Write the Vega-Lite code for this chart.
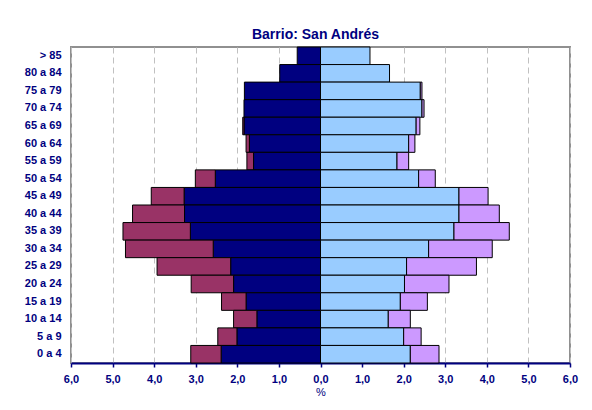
{
  "$schema": "https://vega.github.io/schema/vega-lite/v6.json",
  "autosize": "none",
  "width": 499,
  "height": 316,
  "padding": {"left": 71, "top": 47, "right": 22, "bottom": 47},
  "background": "white",
  "title": {
    "text": "Barrio: San Andrés",
    "font": "Liberation Sans",
    "fontSize": 14,
    "fontWeight": "bold",
    "color": "#000080",
    "anchor": "middle",
    "offset": 5,
    "dx": -5
  },
  "data": {
    "values": [
      {"edad": "> 85", "grupo": "Hombres españoles", "orden": 1, "valor": -0.56},
      {"edad": "> 85", "grupo": "Mujeres españolas", "orden": 1, "valor": 1.19},
      {"edad": "80 a 84", "grupo": "Hombres españoles", "orden": 1, "valor": -0.98},
      {"edad": "80 a 84", "grupo": "Mujeres españolas", "orden": 1, "valor": 1.66},
      {"edad": "75 a 79", "grupo": "Hombres españoles", "orden": 1, "valor": -1.83},
      {"edad": "75 a 79", "grupo": "Mujeres españolas", "orden": 1, "valor": 2.40},
      {"edad": "75 a 79", "grupo": "Mujeres extranjeras", "orden": 2, "valor": 0.04},
      {"edad": "70 a 74", "grupo": "Hombres españoles", "orden": 1, "valor": -1.84},
      {"edad": "70 a 74", "grupo": "Mujeres españolas", "orden": 1, "valor": 2.44},
      {"edad": "70 a 74", "grupo": "Mujeres extranjeras", "orden": 2, "valor": 0.05},
      {"edad": "65 a 69", "grupo": "Hombres españoles", "orden": 1, "valor": -1.84},
      {"edad": "65 a 69", "grupo": "Hombres extranjeros", "orden": 2, "valor": -0.03},
      {"edad": "65 a 69", "grupo": "Mujeres españolas", "orden": 1, "valor": 2.30},
      {"edad": "65 a 69", "grupo": "Mujeres extranjeras", "orden": 2, "valor": 0.09},
      {"edad": "60 a 64", "grupo": "Hombres españoles", "orden": 1, "valor": -1.71},
      {"edad": "60 a 64", "grupo": "Hombres extranjeros", "orden": 2, "valor": -0.08},
      {"edad": "60 a 64", "grupo": "Mujeres españolas", "orden": 1, "valor": 2.12},
      {"edad": "60 a 64", "grupo": "Mujeres extranjeras", "orden": 2, "valor": 0.15},
      {"edad": "55 a 59", "grupo": "Hombres españoles", "orden": 1, "valor": -1.61},
      {"edad": "55 a 59", "grupo": "Hombres extranjeros", "orden": 2, "valor": -0.16},
      {"edad": "55 a 59", "grupo": "Mujeres españolas", "orden": 1, "valor": 1.84},
      {"edad": "55 a 59", "grupo": "Mujeres extranjeras", "orden": 2, "valor": 0.28},
      {"edad": "50 a 54", "grupo": "Hombres españoles", "orden": 1, "valor": -2.53},
      {"edad": "50 a 54", "grupo": "Hombres extranjeros", "orden": 2, "valor": -0.48},
      {"edad": "50 a 54", "grupo": "Mujeres españolas", "orden": 1, "valor": 2.36},
      {"edad": "50 a 54", "grupo": "Mujeres extranjeras", "orden": 2, "valor": 0.40},
      {"edad": "45 a 49", "grupo": "Hombres españoles", "orden": 1, "valor": -3.28},
      {"edad": "45 a 49", "grupo": "Hombres extranjeros", "orden": 2, "valor": -0.79},
      {"edad": "45 a 49", "grupo": "Mujeres españolas", "orden": 1, "valor": 3.33},
      {"edad": "45 a 49", "grupo": "Mujeres extranjeras", "orden": 2, "valor": 0.70},
      {"edad": "40 a 44", "grupo": "Hombres españoles", "orden": 1, "valor": -3.27},
      {"edad": "40 a 44", "grupo": "Hombres extranjeros", "orden": 2, "valor": -1.25},
      {"edad": "40 a 44", "grupo": "Mujeres españolas", "orden": 1, "valor": 3.33},
      {"edad": "40 a 44", "grupo": "Mujeres extranjeras", "orden": 2, "valor": 0.97},
      {"edad": "35 a 39", "grupo": "Hombres españoles", "orden": 1, "valor": -3.13},
      {"edad": "35 a 39", "grupo": "Hombres extranjeros", "orden": 2, "valor": -1.62},
      {"edad": "35 a 39", "grupo": "Mujeres españolas", "orden": 1, "valor": 3.21},
      {"edad": "35 a 39", "grupo": "Mujeres extranjeras", "orden": 2, "valor": 1.33},
      {"edad": "30 a 34", "grupo": "Hombres españoles", "orden": 1, "valor": -2.58},
      {"edad": "30 a 34", "grupo": "Hombres extranjeros", "orden": 2, "valor": -2.11},
      {"edad": "30 a 34", "grupo": "Mujeres españolas", "orden": 1, "valor": 2.60},
      {"edad": "30 a 34", "grupo": "Mujeres extranjeras", "orden": 2, "valor": 1.53},
      {"edad": "25 a 29", "grupo": "Hombres españoles", "orden": 1, "valor": -2.16},
      {"edad": "25 a 29", "grupo": "Hombres extranjeros", "orden": 2, "valor": -1.77},
      {"edad": "25 a 29", "grupo": "Mujeres españolas", "orden": 1, "valor": 2.07},
      {"edad": "25 a 29", "grupo": "Mujeres extranjeras", "orden": 2, "valor": 1.68},
      {"edad": "20 a 24", "grupo": "Hombres españoles", "orden": 1, "valor": -2.09},
      {"edad": "20 a 24", "grupo": "Hombres extranjeros", "orden": 2, "valor": -1.02},
      {"edad": "20 a 24", "grupo": "Mujeres españolas", "orden": 1, "valor": 2.02},
      {"edad": "20 a 24", "grupo": "Mujeres extranjeras", "orden": 2, "valor": 1.07},
      {"edad": "15 a 19", "grupo": "Hombres españoles", "orden": 1, "valor": -1.79},
      {"edad": "15 a 19", "grupo": "Hombres extranjeros", "orden": 2, "valor": -0.59},
      {"edad": "15 a 19", "grupo": "Mujeres españolas", "orden": 1, "valor": 1.92},
      {"edad": "15 a 19", "grupo": "Mujeres extranjeras", "orden": 2, "valor": 0.65},
      {"edad": "10 a 14", "grupo": "Hombres españoles", "orden": 1, "valor": -1.53},
      {"edad": "10 a 14", "grupo": "Hombres extranjeros", "orden": 2, "valor": -0.56},
      {"edad": "10 a 14", "grupo": "Mujeres españolas", "orden": 1, "valor": 1.63},
      {"edad": "10 a 14", "grupo": "Mujeres extranjeras", "orden": 2, "valor": 0.53},
      {"edad": "5 a 9", "grupo": "Hombres españoles", "orden": 1, "valor": -2.01},
      {"edad": "5 a 9", "grupo": "Hombres extranjeros", "orden": 2, "valor": -0.46},
      {"edad": "5 a 9", "grupo": "Mujeres españolas", "orden": 1, "valor": 2.00},
      {"edad": "5 a 9", "grupo": "Mujeres extranjeras", "orden": 2, "valor": 0.42},
      {"edad": "0 a 4", "grupo": "Hombres españoles", "orden": 1, "valor": -2.39},
      {"edad": "0 a 4", "grupo": "Hombres extranjeros", "orden": 2, "valor": -0.73},
      {"edad": "0 a 4", "grupo": "Mujeres españolas", "orden": 1, "valor": 2.16},
      {"edad": "0 a 4", "grupo": "Mujeres extranjeras", "orden": 2, "valor": 0.69}
    ]
  },
  "mark": {"type": "bar", "stroke": "black", "strokeWidth": 1},
  "encoding": {
    "y": {
      "field": "edad",
      "type": "nominal",
      "sort": ["> 85", "80 a 84", "75 a 79", "70 a 74", "65 a 69", "60 a 64", "55 a 59", "50 a 54", "45 a 49", "40 a 44", "35 a 39", "30 a 34", "25 a 29", "20 a 24", "15 a 19", "10 a 14", "5 a 9", "0 a 4"],
      "scale": {"paddingInner": 0, "paddingOuter": 0},
      "axis": {
        "title": null,
        "ticks": false,
        "domain": false,
        "labelPadding": 10,
        "labelFont": "Liberation Sans",
        "labelFontSize": 11,
        "labelFontWeight": "bold",
        "labelColor": "#000080"
      }
    },
    "x": {
      "field": "valor",
      "type": "quantitative",
      "stack": "zero",
      "scale": {"domain": [-6, 6], "nice": false},
      "axis": {
        "title": "%",
        "values": [-6, -5, -4, -3, -2, -1, 0, 1, 2, 3, 4, 5, 6],
        "labelExpr": "replace(format(abs(datum.value), '.1f'), '.', ',')",
        "labelFlush": false,
        "labelOverlap": false,
        "labelFont": "Liberation Sans",
        "labelFontSize": 11,
        "labelFontWeight": "bold",
        "labelColor": "#000080",
        "labelPadding": 6,
        "titleFont": "Liberation Sans",
        "titleFontSize": 11,
        "titleFontWeight": "normal",
        "titleColor": "#000080",
        "titlePadding": 2,
        "domainColor": "#000080",
        "domainWidth": 2,
        "tickColor": "#000080",
        "tickWidth": 1.5,
        "tickSize": 4,
        "grid": true,
        "gridColor": "#C0C0C0",
        "gridDash": [6, 4],
        "gridWidth": 1
      }
    },
    "color": {
      "field": "grupo",
      "type": "nominal",
      "scale": {
        "domain": ["Hombres españoles", "Hombres extranjeros", "Mujeres españolas", "Mujeres extranjeras"],
        "range": ["#000080", "#993366", "#99CCFF", "#CC99FF"]
      },
      "legend": null
    },
    "order": {"field": "orden", "type": "quantitative"}
  },
  "config": {
    "view": {"stroke": "#909090", "strokeWidth": 2}
  }
}
